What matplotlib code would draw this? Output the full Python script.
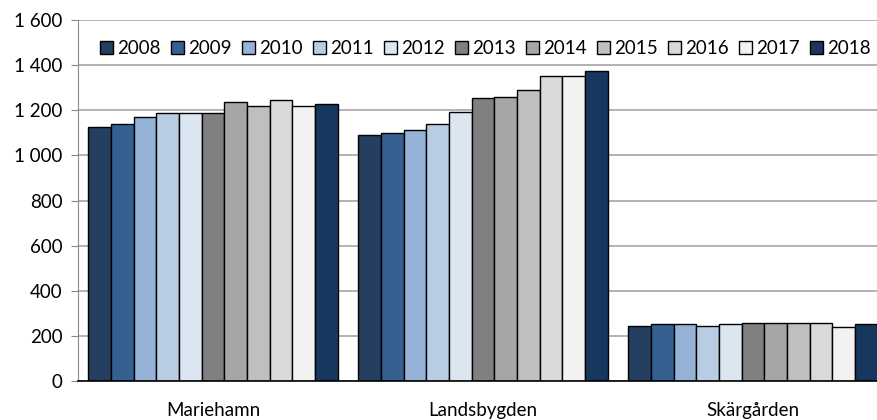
import numpy as np
import matplotlib
matplotlib.use("Agg")
from matplotlib import pyplot as plt
from matplotlib.ticker import FuncFormatter

plt.rcParams['font.family'] = ['Lato', 'DejaVu Sans']

regions = ['Mariehamn', 'Landsbygden', 'Skärgården']
years = ['2008', '2009', '2010', '2011', '2012', '2013', '2014', '2015', '2016', '2017', '2018']

mariehamn = [1127, 1140, 1170, 1189, 1189, 1190, 1238, 1219, 1245, 1219, 1226]
landsbygden = [1092, 1099, 1112, 1140, 1191, 1254, 1260, 1288, 1353, 1353, 1374]
skargarden = [244, 253, 252, 244, 251, 258, 257, 257, 257, 238, 253]

colors = ['#243F60', '#366092', '#95B3D7', '#B8CCE4', '#DCE6F1',
          '#808080', '#A6A6A6', '#BFBFBF', '#D9D9D9', '#F2F2F2', '#17375E']

values = np.array([mariehamn, landsbygden, skargarden])

fig = plt.figure(figsize=(8.78, 4.2), dpi=100)
ax = fig.add_axes([78 / 878, (420 - 381) / 420, 810 / 878, 361 / 420])

x = np.arange(len(regions))
n = len(years)
bw = 0.925 / n
for i in range(n):
    ax.bar(x - 0.925 / 2 + bw * (i + 0.5), values[:, i], width=bw, color=colors[i],
           edgecolor='black', linewidth=1.0, label=years[i], zorder=3)

ax.set_xlim(-0.5, 2.5)
ax.set_ylim(0, 1600)
ax.set_yticks(range(0, 1601, 200))
ax.yaxis.set_major_formatter(FuncFormatter(lambda v, p: f'{int(v):,}'.replace(',', ' ')))
ax.set_xticks(x)
ax.set_xticklabels(regions)
ax.tick_params(axis='x', length=0, pad=15, labelsize=13.5)
ax.tick_params(axis='y', length=5, color='#888888', pad=6, labelsize=13.5)
ax.grid(axis='y', color='#A6A6A6', linewidth=1.2, zorder=0)
for s in ['top', 'right']:
    ax.spines[s].set_visible(False)
ax.spines['left'].set_color('#888888')
ax.spines['bottom'].set_color('black')
ax.spines['bottom'].set_linewidth(1.2)
ax.spines['bottom'].set_zorder(4)

ax.legend(ncol=n, loc='upper left', bbox_to_anchor=(0.018, 0.965), frameon=False,
          handlelength=0.7, handleheight=0.7, handletextpad=0.2, columnspacing=0.56,
          fontsize=13.5, borderaxespad=0)

fig.savefig('out.png', dpi=100)
